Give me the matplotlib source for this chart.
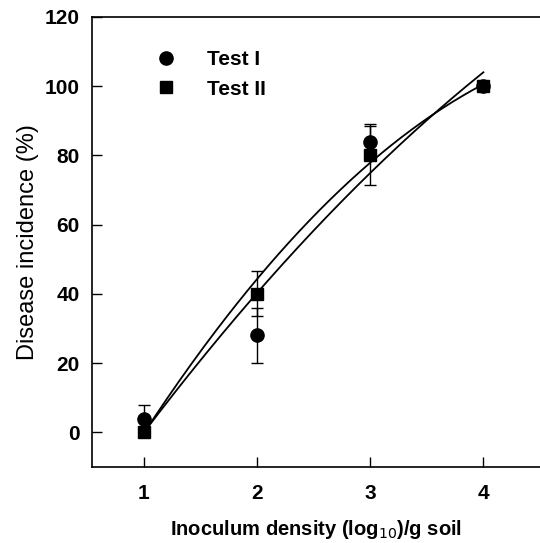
import numpy as np
import matplotlib
matplotlib.use('Agg')
import matplotlib.pyplot as plt

plt.rcParams['font.family'] = ['Liberation Sans', 'DejaVu Sans']

# data
density = [1, 2, 3, 4]
test1 = [4, 28, 84, 100]
test1_err = [4, 8, 5, 0]
test2 = [0, 40, 80, 100]
test2_err = [0, 6.5, 8.5, 0]

# fitted curves, points
curve_x = [1, 2, 3, 3.65, 4]
curve_a = [0, 43.6, 78.3, 94.5, 100]
curve_b = [0, 40.2, 75.0, 94.5, 104]

fig = plt.figure(figsize=(5.4, 5.43), dpi=100)
ax = fig.add_axes([0.170, 0.140, 0.830, 0.8287])

xs = np.linspace(1, 4, 200)
for cy in (curve_a, curve_b):
    coef = np.polyfit(curve_x, cy, 2)
    ax.plot(xs, np.polyval(coef, xs), color='black', lw=1.3)

ax.errorbar(density, test1, yerr=test1_err, fmt='o', color='black', ms=9.5,
            capsize=4, elinewidth=1, capthick=1, label='Test I')
ax.errorbar(density, test2, yerr=test2_err, fmt='s', color='black', ms=8,
            capsize=4, elinewidth=1, capthick=1, label='Test II')

ax.set_xlim(0.54, 4.5)
ax.set_ylim(-10, 120)
ax.set_xticks(density)
ax.set_yticks(range(0, 121, 20))
ax.tick_params(direction='in', length=7, width=1, labelsize=15)
ax.tick_params(axis='x', pad=12)
ax.tick_params(axis='y', pad=8.5)
for lab in ax.get_xticklabels() + ax.get_yticklabels():
    lab.set_fontweight('bold')
ax.spines['right'].set_visible(False)
for s in ('left', 'top', 'bottom'):
    ax.spines[s].set_linewidth(1.2)

ax.set_xlabel('Inoculum density (log$_{10}$)/g soil', fontsize=14.5,
              fontweight='bold', labelpad=11)
ax.set_ylabel('Disease incidence (%)', fontsize=17, labelpad=4)

handles, labels = ax.get_legend_handles_labels()
leg = ax.legend([h[0] for h in handles], labels, loc='upper left', frameon=False,
                bbox_to_anchor=(0.1, 0.968), prop={'weight': 'bold', 'size': 15},
                handletextpad=1.5, labelspacing=0.5, handlelength=1)

fig.savefig('out.png', dpi=100)
